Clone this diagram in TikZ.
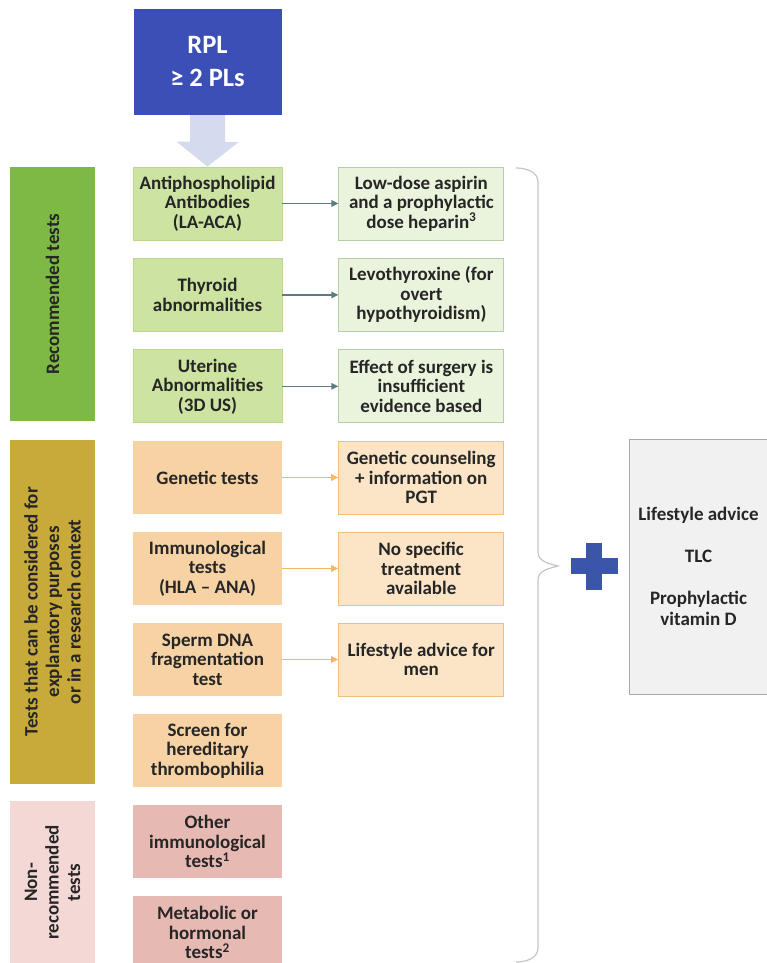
\documentclass[tikz,border=0pt]{standalone}
\usepackage{fontspec}
\setmainfont{Carlito}
\usetikzlibrary{positioning,arrows.meta,calc}

\definecolor{rplblue}{HTML}{3B4FB6}
\definecolor{arrowlavender}{HTML}{D6DAEE}
\definecolor{recgreen}{HTML}{7DB944}
\definecolor{greenfill}{HTML}{CDE3A1}
\definecolor{greenline}{HTML}{BBD68E}
\definecolor{greentreatfill}{HTML}{EAF3DB}
\definecolor{greentreatline}{HTML}{B7CCA8}
\definecolor{linkteal}{HTML}{5B7D80}
\definecolor{resyellow}{HTML}{C8AA3B}
\definecolor{orangefill}{HTML}{F6D2A4}
\definecolor{orangetreatfill}{HTML}{FCE5C7}
\definecolor{orangetreatline}{HTML}{F0BE7F}
\definecolor{linkorange}{HTML}{F3B767}
\definecolor{nonpink}{HTML}{F3D8D5}
\definecolor{pinkfill}{HTML}{E7B9B3}
\definecolor{advicegray}{HTML}{F1F1F1}
\definecolor{adviceline}{HTML}{A8A8A8}
\definecolor{plusblue}{HTML}{3A55AA}
\definecolor{bracegray}{HTML}{C5C5C5}
\definecolor{textdark}{HTML}{262626}

\newcommand{\boxfont}{\fontsize{19}{19.5}\selectfont\bfseries}
\newcommand{\barfont}{\fontsize{19}{21.5}\selectfont\bfseries}

\begin{document}
\begin{tikzpicture}[x=1pt, y=-1pt,
    testbox/.style={minimum width=149pt, minimum height=73pt, inner sep=2pt,
      align=center, text=textdark, font=\boxfont},
    greentest/.style={testbox, fill=greenfill, draw=greenline, line width=0.8pt},
    orangetest/.style={testbox, fill=orangefill},
    pinktest/.style={testbox, fill=pinkfill},
    treatbox/.style={testbox, minimum width=165pt},
    greentreat/.style={treatbox, fill=greentreatfill, draw=greentreatline, line width=1pt},
    orangetreat/.style={treatbox, fill=orangetreatfill, draw=orangetreatline, line width=1pt},
    groupbar/.style={rotate=90, minimum height=85pt, inner sep=2pt, align=center,
      text=textdark, font=\barfont},
    greenlink/.style={draw=linkteal, line width=1.2pt, -{Triangle[length=7pt, width=6.5pt]}},
    orangelink/.style={draw=linkorange, line width=1.2pt, -{Triangle[length=7pt, width=6.5pt]}}]

  \useasboundingbox (0,0) rectangle (766,963);

  % the starting point
  \node[fill=rplblue, text=white, minimum width=148pt, minimum height=106pt, align=center,
    font=\fontsize{26.5}{33}\selectfont\bfseries] (rpl) at (207.5,62) {RPL\\≥ 2 PLs};

  % the tests, one column
  \node[greentest] (apa) at (207.5,203.5) {Antiphospholipid\\Antibodies\\(LA-ACA)};
  \node[greentest, below=17.6pt of apa] (thyroid) {Thyroid\\abnormalities};
  \node[greentest, below=17.6pt of thyroid] (uterine) {Uterine\\Abnormalities\\(3D US)};
  \node[orangetest, below=17.6pt of uterine] (genetic) {Genetic tests};
  \node[orangetest, below=17.6pt of genetic] (immuno) {Immunological\\tests\\(HLA -- ANA)};
  \node[orangetest, below=17.6pt of immuno] (sperm) {Sperm DNA\\fragmentation\\test};
  \node[orangetest, below=17.6pt of sperm] (thrombo) {Screen for\\hereditary\\thrombophilia};
  \node[pinktest, below=17.6pt of thrombo] (otherimmuno) {Other\\immunological\\tests\textsuperscript{1}};
  \node[pinktest, below=17.6pt of otherimmuno] (metabolic) {Metabolic or\\hormonal\\tests\textsuperscript{2}};

  % the wide arrow into the first test
  \fill[arrowlavender] ($(rpl.south)+(-17.5,0)$) -- ++(35,0) -- ++(0,27) -- ++(13.5,0)
    -- (apa.north) -- ++(-31,-25) -- ++(13.5,0) -- cycle;

  % the groups on the left
  \node[groupbar, fill=recgreen, minimum width=254pt] (recbar) at (52.5,294) {Recommended tests};
  \node[groupbar, fill=resyellow, minimum width=344.5pt] (resbar) at (52.5,611.75)
    {Tests that can be considered for\\explanatory purposes\\or in a research context};
  \node[groupbar, fill=nonpink, minimum width=163pt] (nonbar) at (52.5,882.5)
    {Non-\\recommended\\tests};

  % the treatments, one for each test that has one
  \node[greentreat, right=56pt of apa] (apatreat) {Low-dose aspirin\\and a prophylactic\\dose heparin\textsuperscript{3}};
  \node[greentreat, right=56pt of thyroid] (thyroidtreat) {Levothyroxine (for\\overt\\hypothyroidism)};
  \node[greentreat, right=56pt of uterine] (uterinetreat) {Effect of surgery is\\insufficient\\evidence based};
  \node[orangetreat, right=56pt of genetic] (genetictreat) {Genetic counseling\\+ information on\\PGT};
  \node[orangetreat, right=56pt of immuno] (immunotreat) {No specific\\treatment\\available};
  \node[orangetreat, right=56pt of sperm] (spermtreat) {Lifestyle advice for\\men};

  \draw[greenlink] (apa) -- (apatreat);
  \draw[greenlink] (thyroid) -- (thyroidtreat);
  \draw[greenlink] (uterine) -- (uterinetreat);
  \draw[orangelink] (genetic) -- (genetictreat);
  \draw[orangelink] (immuno) -- (immunotreat);
  \draw[orangelink] (sperm) -- (spermtreat);

  % brace over all tests, then the plus and the advice for everyone
  \coordinate (bracetop) at (516,168);
  \coordinate (bracetip) at (558,566);
  \coordinate (bracebot) at (516,962);
  \draw[bracegray, line width=1.2pt] (bracetop) to[out=0, in=90] (538,182) -- (538,552)
    to[out=-90, in=165] (bracetip) to[out=195, in=90] (538,580) -- (538,948)
    to[out=-90, in=0] (bracebot);

  \node[minimum size=47pt, inner sep=0pt] (plus) at (594,566) {};
  \fill[plusblue] ($(plus.center)+(-23.5,-8)$) rectangle ($(plus.center)+(23.5,8)$);
  \fill[plusblue] ($(plus.center)+(-8,-23.5)$) rectangle ($(plus.center)+(8,23.5)$);

  \node[fill=advicegray, draw=adviceline, line width=1pt, minimum width=139pt,
    minimum height=255pt, align=center, text=textdark,
    font=\fontsize{19}{21}\selectfont\bfseries] (advice) at (698.5,566.5)
    {Lifestyle advice\\[21pt]TLC\\[21pt]Prophylactic\\vitamin D};
\end{tikzpicture}
\end{document}
